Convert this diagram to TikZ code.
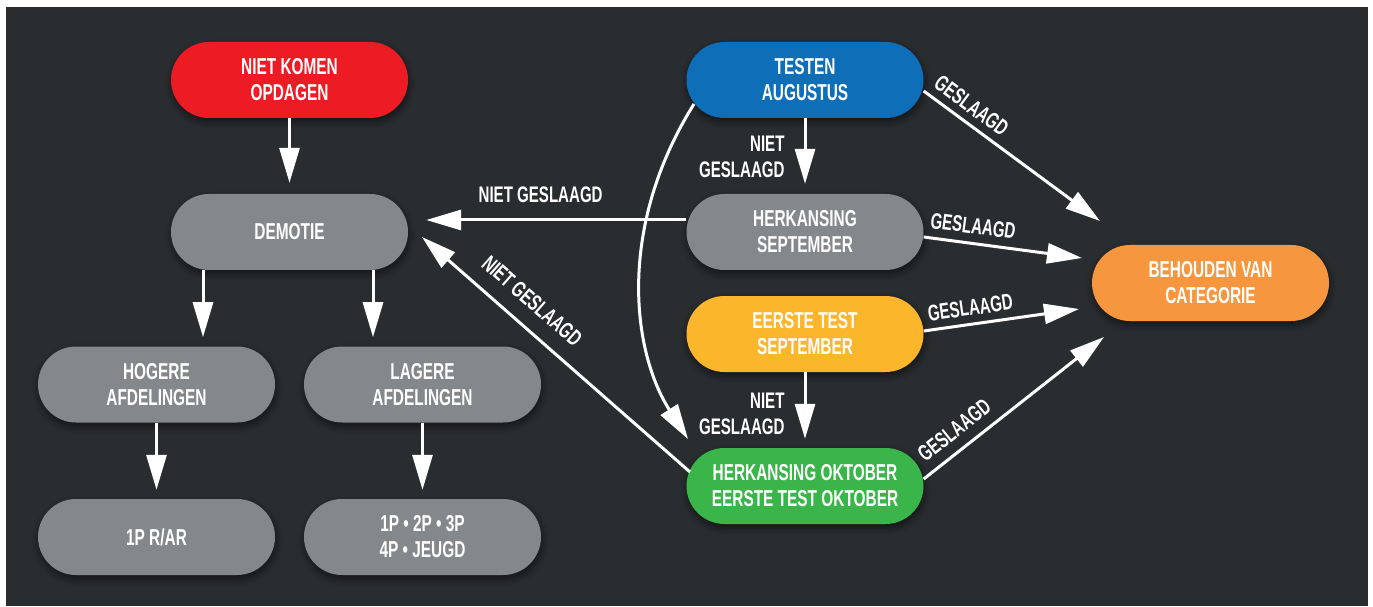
\documentclass[tikz,border=0pt]{standalone}
\usepackage{fontspec}
\newfontfamily\lblfont[FakeStretch=0.67]{Liberation Sans}
\usetikzlibrary{arrows.meta,shadows,shadows.blur,calc}
\definecolor{bgdark}{HTML}{2A2D30}
\definecolor{cred}{HTML}{ED1C24}
\definecolor{cgrey}{HTML}{85888B}
\definecolor{cblue}{HTML}{0E6EB8}
\definecolor{cyellow}{HTML}{FBB62B}
\definecolor{cgreen}{HTML}{3AB54A}
\definecolor{corange}{HTML}{F6963E}
\begin{document}
\begin{tikzpicture}[x=1pt,y=1pt,
  box/.style={rectangle, rounded corners=38pt, minimum width=237pt, minimum height=76pt,
    inner sep=0pt, align=center, text=white,
    font=\lblfont\bfseries\fontsize{23}{26}\selectfont,
    blur shadow={shadow xshift=1pt, shadow yshift=-4pt, shadow blur radius=7pt, shadow blur steps=8, shadow opacity=55}},
  arr/.style={draw=white, line width=3pt, -{Triangle[length=35pt,width=20pt]}},
  lbl/.style={text=white, inner sep=0pt, font=\lblfont\bfseries\fontsize{22.5}{26}\selectfont},
]
\useasboundingbox (0,0) rectangle (1373,606);
\fill[white] (0,0) rectangle (1373,606);
\fill[bgdark] (6,0) rectangle (1368,599);

% nodes
\node[box, fill=cred] (niet) at (289.5,526) {NIET KOMEN\\OPDAGEN};
\node[box, fill=cgrey] (demotie) at (289.5,374) {DEMOTIE};
\node[box, fill=cgrey] (hogere) at (156.5,221.5) {HOGERE\\AFDELINGEN};
\node[box, fill=cgrey] (lagere) at (422.5,221.5) {LAGERE\\AFDELINGEN};
\node[box, fill=cgrey] (rar) at (156.5,69) {1P R/AR};
\node[box, fill=cgrey] (prov) at (422.5,69) {1P • 2P • 3P\\4P • JEUGD};
\node[box, fill=cblue] (testen) at (805,526) {TESTEN\\AUGUSTUS};
\node[box, fill=cgrey] (herksept) at (805,374) {HERKANSING\\SEPTEMBER};
\node[box, fill=cyellow] (eerste) at (805,272) {EERSTE TEST\\SEPTEMBER};
\node[box, fill=cgreen] (herkokt) at (805,120) {HERKANSING OKTOBER\\EERSTE TEST OKTOBER};
\node[box, fill=corange] (behoud) at (1210.5,323) {BEHOUDEN VAN\\CATEGORIE};

% left column
\draw[arr] (niet.south) -- ([yshift=11pt]demotie.north);
\draw[arr] ([xshift=-86.5pt]demotie.south) -- ++(0,-67);
\draw[arr] ([xshift=83.5pt]demotie.south) -- ++(0,-67);
\draw[arr] (hogere.south) -- ([yshift=9pt]rar.north);
\draw[arr] (lagere.south) -- ([yshift=9pt]prov.north);

% right column
\draw[arr] (testen.south) -- node[lbl, pos=.59, left=19pt, align=right]{NIET\\GESLAAGD} ([yshift=10pt]herksept.north);
\draw[arr] (eerste.south) -- node[lbl, pos=.62, left=19pt, align=right]{NIET\\GESLAAGD} ([yshift=9pt]herkokt.north);
\draw[arr] ([shift={(-111pt,-24pt)}]testen.center) .. controls (616.6,378.6) and (632,254.5) .. ([shift={(-117pt,47pt)}]herkokt.center);

% back to demotie
\draw[arr] ([yshift=12pt]herksept.west) -- node[lbl, pos=.56, above=16pt]{NIET GESLAAGD} ([shift={(18pt,12pt)}]demotie.east);
\draw[arr] ([shift={(-115pt,14pt)}]herkokt.center) -- node[lbl, sloped, pos=.649, above=15pt]{NIET GESLAAGD} ([shift={(132.5pt,-5pt)}]demotie.center);

% to behouden
\draw[arr] ([yshift=-11pt]testen.east) -- node[lbl, sloped, pos=.216, above=7pt]{GESLAAGD} ([shift={(-110.5pt,62pt)}]behoud.center);
\draw[arr] ([yshift=-5pt]herksept.east) -- node[lbl, sloped, pos=.298, above=8pt]{GESLAAGD} ([shift={(-128.5pt,25pt)}]behoud.center);
\draw[arr] ([yshift=3pt]eerste.east) -- node[lbl, sloped, pos=.315, above=7pt]{GESLAAGD} ([shift={(-131.5pt,-26pt)}]behoud.center);
\draw[arr] ([yshift=7pt]herkokt.east) -- node[lbl, sloped, pos=.236, above=10pt]{GESLAAGD} ([shift={(-106.5pt,-54pt)}]behoud.center);
\end{tikzpicture}
\end{document}
